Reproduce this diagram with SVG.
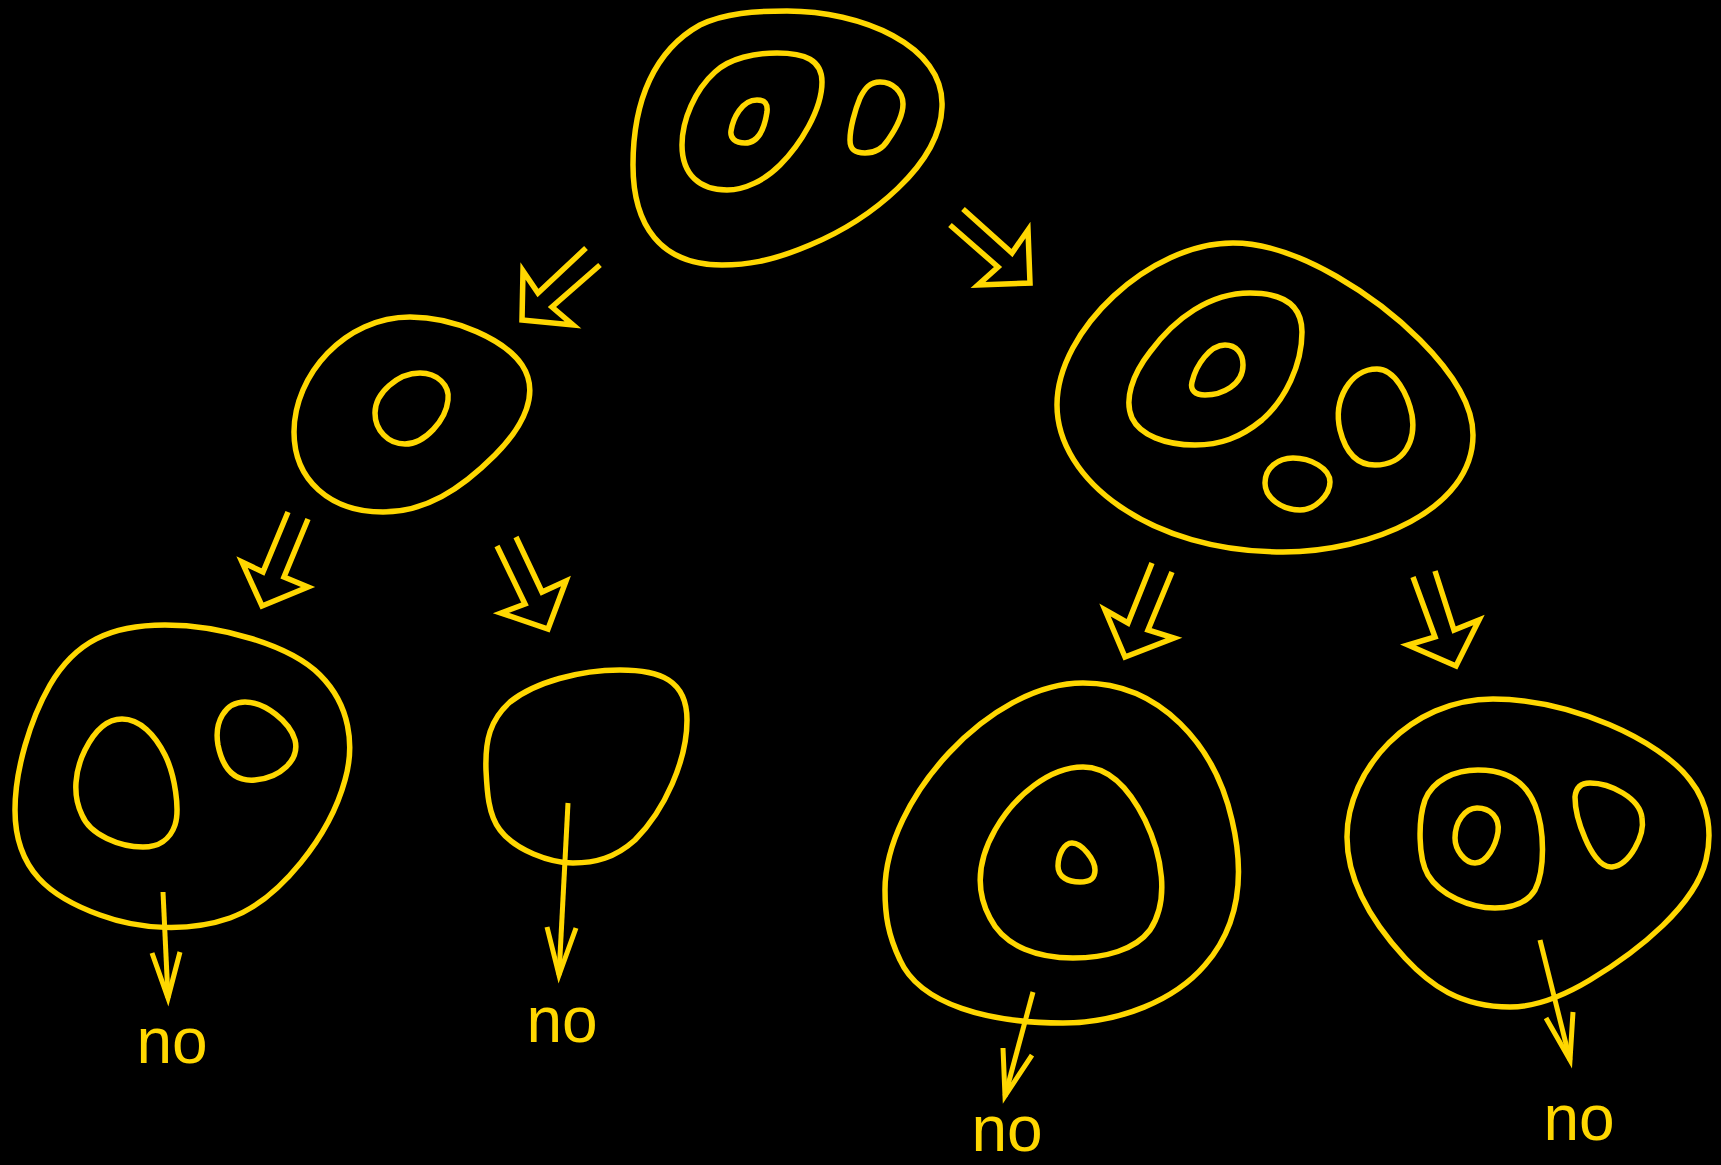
<svg xmlns="http://www.w3.org/2000/svg" width="1721" height="1165" viewBox="0 0 1721 1165">
<style>
.shape{fill:none;stroke:#FFD700;stroke-width:5.5;stroke-linejoin:round}
.big{fill:none;stroke:#FFD700;stroke-width:5.5;stroke-linejoin:miter;stroke-miterlimit:10}
.thin{fill:none;stroke:#FFD700;stroke-width:5;stroke-linejoin:miter;stroke-miterlimit:10}
.lbl{fill:#FFD700;font-family:"Liberation Sans",Arial,sans-serif;font-size:64px;text-anchor:middle}
</style>
<rect width="1721" height="1165" fill="#000"/>
<g id="node-top">
<path class="shape" d="M 787,11 C 860,11 945,45 942,107 C 940,165 870,220 810,245 C 770,262 745,265 722,265 C 660,265 633,225 633,165 C 633,100 655,50 700,25 C 725,13 755,11 787,11 Z"/>
<path class="shape" d="M 777,53 C 805,53 822,60 822,82 C 822,110 800,145 780,165 C 765,180 745,190 727,190 C 700,190 682,175 682,145 C 682,120 695,90 715,72 C 730,58 755,53 777,53 Z"/>
<path class="shape" d="M 757,100 C 765,100 768,104 767,112 C 765,125 760,143 745,143 C 735,143 730,138 731,131 C 733,118 742,100 757,100 Z"/>
<path class="shape" d="M 880,82 C 893,82 903,92 903,104 C 903,116 895,130 888,140 C 883,148 875,153 865,153 C 855,153 850,150 850,140 C 850,128 855,110 860,98 C 865,88 870,82 880,82 Z"/>
</g>
<g id="node-mid-left">
<path class="shape" d="M 410,317 C 455,317 505,340 522,365 C 540,392 525,425 495,455 C 460,490 425,512 383,512 C 330,512 294,480 294,432 C 294,375 345,317 410,317 Z"/>
<path class="shape" d="M 420,373 C 437,373 450,385 448,400 C 446,420 425,444 405,444 C 388,444 375,430 375,413 C 375,393 398,373 420,373 Z"/>
</g>
<g id="node-mid-right">
<path class="shape" d="M 1233,243 C 1300,243 1380,300 1420,340 C 1460,380 1473,410 1473,435 C 1473,510 1370,552 1283,552 C 1150,552 1057,480 1057,405 C 1057,330 1150,243 1233,243 Z"/>
<path class="shape" d="M 1250,293 C 1283,293 1302,305 1302,332 C 1302,365 1285,400 1262,420 C 1240,438 1220,445 1195,445 C 1165,445 1140,435 1132,418 C 1124,400 1132,375 1150,352 C 1175,318 1210,293 1250,293 Z"/>
<path class="shape" d="M 1225,345 C 1236,345 1243,353 1243,365 C 1243,385 1222,395 1205,395 C 1195,395 1190,390 1192,382 C 1196,365 1210,345 1225,345 Z"/>
<path class="shape" d="M 1377,369 C 1395,369 1408,395 1412,415 C 1416,440 1405,465 1375,465 C 1355,465 1345,450 1340,430 C 1333,400 1350,369 1377,369 Z"/>
<path class="shape" d="M 1293,458 C 1310,458 1330,468 1330,482 C 1330,495 1315,510 1300,510 C 1282,510 1265,498 1265,483 C 1265,468 1278,458 1293,458 Z"/>
</g>
<g id="node-bottom-1">
<path class="shape" d="M 165,625 C 220,625 290,645 320,675 C 350,705 355,745 345,780 C 330,835 280,900 230,918 C 190,932 140,930 100,915 C 50,897 15,870 15,810 C 15,770 30,720 50,685 C 75,642 110,625 165,625 Z"/>
<path class="shape" d="M 122,719 C 140,719 155,735 165,755 C 175,775 180,810 175,825 C 170,840 158,847 143,847 C 120,847 90,835 82,815 C 72,795 75,770 85,750 C 95,730 108,719 122,719 Z"/>
<path class="shape" d="M 245,702 C 265,702 290,722 295,740 C 300,760 280,778 255,780 C 232,782 222,765 218,745 C 214,722 225,702 245,702 Z"/>
</g>
<g id="node-bottom-2">
<path class="shape" d="M 620,670 C 660,670 687,680 687,720 C 687,760 665,810 635,840 C 615,858 595,863 573,863 C 550,863 515,850 500,830 C 488,815 487,790 486,770 C 485,740 490,720 510,702 C 535,682 580,670 620,670 Z"/>
</g>
<g id="node-bottom-3">
<path class="shape" d="M 1083,683 C 1160,683 1215,745 1232,820 C 1245,875 1240,925 1205,965 C 1175,1000 1120,1023 1063,1023 C 990,1023 920,1005 900,960 C 888,935 885,915 885,890 C 885,800 990,683 1083,683 Z"/>
<path class="shape" d="M 1083,767 C 1110,767 1130,790 1145,820 C 1162,855 1170,900 1150,930 C 1135,950 1105,958 1073,958 C 1040,958 1005,948 990,918 C 975,890 978,860 995,830 C 1015,795 1050,767 1083,767 Z"/>
<path class="shape" d="M 1072,843 C 1082,843 1095,860 1095,870 C 1095,880 1088,882 1080,882 C 1068,882 1058,877 1058,866 C 1058,855 1064,843 1072,843 Z"/>
</g>
<g id="node-bottom-4">
<path class="shape" d="M 1493,699 C 1570,699 1660,740 1690,780 C 1710,805 1712,835 1706,860 C 1695,905 1640,950 1590,980 C 1560,998 1535,1007 1510,1007 C 1460,1007 1430,985 1405,958 C 1370,920 1347,880 1347,837 C 1347,770 1410,699 1493,699 Z"/>
<path class="shape" d="M 1478,770 C 1505,770 1525,780 1535,805 C 1545,830 1545,870 1535,890 C 1527,903 1512,908 1495,908 C 1470,908 1440,895 1428,875 C 1418,858 1418,820 1425,800 C 1433,780 1455,770 1478,770 Z"/>
<path class="shape" d="M 1477,808 C 1490,808 1500,817 1498,832 C 1496,845 1487,863 1475,863 C 1465,863 1455,850 1455,838 C 1455,822 1465,808 1477,808 Z"/>
<path class="shape" d="M 1590,783 C 1610,783 1640,798 1642,818 C 1645,835 1630,865 1612,867 C 1600,868 1590,850 1585,838 C 1578,822 1575,810 1575,797 C 1576,787 1582,783 1590,783 Z"/>
</g>
<g id="connectors">
<path class="big" d="M 586,248 L 538,293 L 523,271 L 522,320 L 573,325 L 552,307 L 600,265"/>
<path class="big" d="M 963,209 L 1012,253 L 1028,230 L 1030,283 L 978,285 L 998,267 L 950,225"/>
<path class="big" d="M 288,512 L 263,572 L 242,562 L 262,606 L 308,587 L 284,577 L 308,519"/>
<path class="big" d="M 497,546 L 525,604 L 501,613 L 548,629 L 566,581 L 542,592 L 516,537"/>
<path class="big" d="M 1152,563 L 1128,623 L 1105,610 L 1125,657 L 1174,638 L 1148,630 L 1172,572"/>
<path class="big" d="M 1413,577 L 1435,637 L 1408,645 L 1456,666 L 1479,620 L 1454,630 L 1435,571"/>
<path class="thin" d="M 163,892 L 168,998"/>
<path class="thin" d="M 152,953 L 168,998 L 180,952"/>
<path class="thin" d="M 568,803 L 559,975"/>
<path class="thin" d="M 547,927 L 559,975 L 576,928"/>
<path class="thin" d="M 1033,992 L 1005,1096"/>
<path class="thin" d="M 1003,1048 L 1005,1096 L 1032,1055"/>
<path class="thin" d="M 1540,940 L 1570,1060"/>
<path class="thin" d="M 1546,1018 L 1570,1060 L 1573,1012"/>
</g>
<g id="labels">
<text class="lbl" x="172" y="1063">no</text>
<text class="lbl" x="562" y="1042">no</text>
<text class="lbl" x="1007" y="1151">no</text>
<text class="lbl" x="1579" y="1140">no</text>
</g>
</svg>
